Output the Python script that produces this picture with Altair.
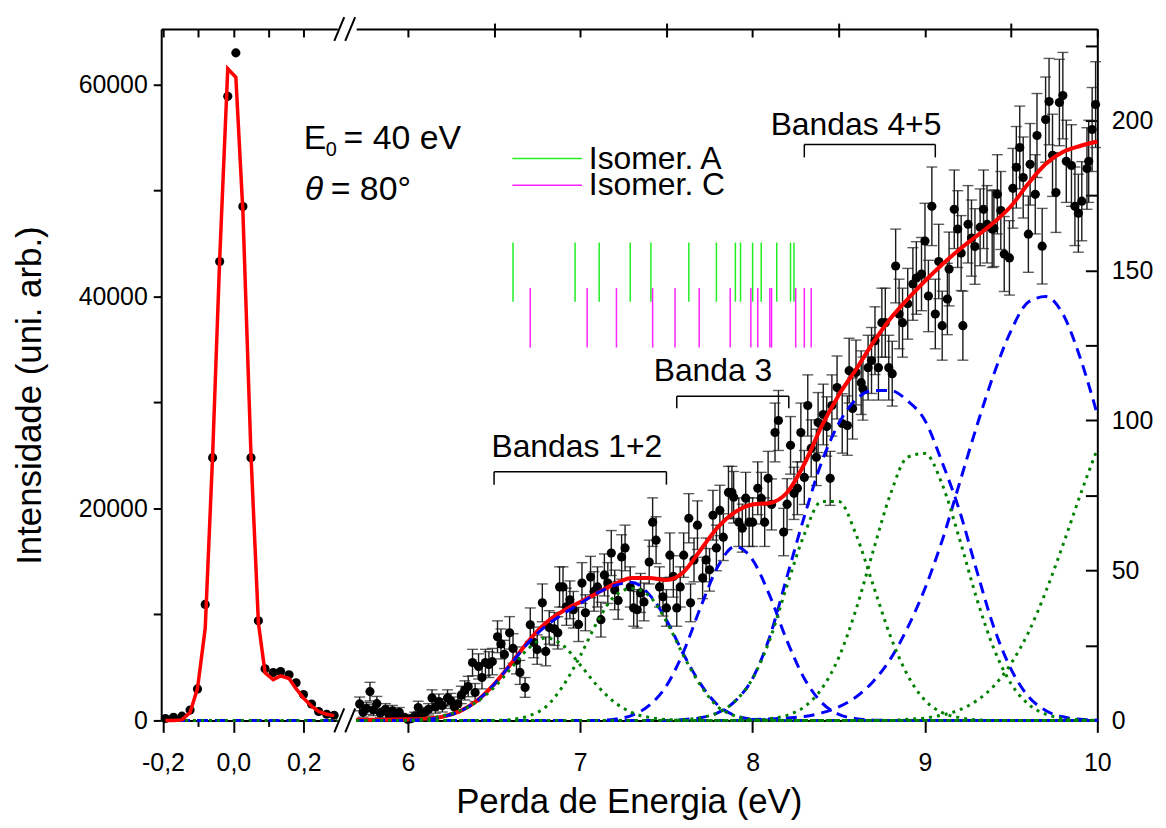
import altair as alt
import pandas as pd

FONT = "Liberation Sans"

# ---------------- elastic peak (left panel, left axis units) ----------------
el_x = [-0.193, -0.170, -0.146, -0.123, -0.102, -0.080, -0.059, -0.039, -0.016, 0.007,
        0.027, 0.050, 0.071, 0.090, 0.113, 0.134, 0.158, 0.178, 0.199, 0.222,
        0.242, 0.265, 0.286]
el_counts = [180, 300, 400, 975, 2970, 10950, 24800, 43300, 58900, 63000,
             48500, 24800, 9400, 4870, 4520, 4610, 4300, 3550, 2440, 1550,
             840, 580, 490]
el_fit = [0, 0, 50, 750, 3000, 8700, 25000, 43500, 61500, 60700,
          48000, 25000, 9200, 4500, 3850, 4200, 3950, 3000, 2100, 1350,
          850, 580, 450]
el_base_x = [-0.205, 0.295]
el_base_y = [0, 0]

# ---------------- energy-loss spectrum (right panel, right axis units) ----------------
sp_x = [5.72, 5.74, 5.76, 5.78, 5.80, 5.82, 5.84, 5.87, 5.89, 5.91,
        5.93, 5.95, 5.98, 6.00, 6.02, 6.04, 6.06, 6.08, 6.10, 6.12,
        6.14, 6.16, 6.18, 6.20, 6.23, 6.25, 6.27, 6.29, 6.31, 6.33,
        6.35, 6.375, 6.39, 6.41, 6.43, 6.45, 6.47, 6.49, 6.52, 6.54,
        6.56, 6.59, 6.61, 6.63, 6.65, 6.68, 6.71, 6.73, 6.75, 6.78,
        6.80, 6.82, 6.85, 6.87, 6.88, 6.90, 6.92, 6.94, 6.96, 6.99,
        7.01, 7.03, 7.06, 7.08, 7.10, 7.12, 7.14, 7.16, 7.18, 7.20,
        7.22, 7.24, 7.26, 7.29, 7.31, 7.33, 7.35, 7.37, 7.40, 7.42,
        7.44, 7.46, 7.48, 7.50, 7.52, 7.54, 7.56, 7.58, 7.60, 7.63,
        7.64, 7.66, 7.68, 7.71, 7.73, 7.75, 7.77, 7.79, 7.81, 7.83,
        7.86, 7.88, 7.89, 7.92, 7.94, 7.96, 7.98, 8.00, 8.03, 8.05,
        8.07, 8.09, 8.11, 8.13, 8.15, 8.18, 8.20, 8.22, 8.24, 8.26,
        8.28, 8.30, 8.32, 8.34, 8.37, 8.38, 8.41, 8.43, 8.45, 8.46,
        8.49, 8.52, 8.55, 8.56, 8.58, 8.60, 8.63, 8.64, 8.67, 8.69,
        8.71, 8.73, 8.75, 8.77, 8.79, 8.81, 8.83, 8.85, 8.87, 8.90,
        8.93, 8.95, 8.98, 9.00, 9.02, 9.04, 9.06, 9.08, 9.10, 9.13,
        9.14, 9.17, 9.19, 9.21, 9.22, 9.25, 9.27, 9.29, 9.32, 9.34,
        9.36, 9.39, 9.40, 9.42, 9.44, 9.46, 9.49, 9.51, 9.53, 9.55,
        9.57, 9.60, 9.61, 9.64, 9.65, 9.68, 9.70, 9.72, 9.74, 9.76,
        9.78, 9.80, 9.82, 9.85, 9.87, 9.89, 9.91, 9.94, 9.95, 9.97,
        9.99]
sp_y = [5.5, 2.7, 4.0, 9.6, 3.5, 5.6, 2.5, 3.7, 2.0, 3.2,
        1.5, 2.7, 1.0, 0.3, 0.6, 1.5, 4.3, 2.0, 2.7, 3.7,
        7.5, 4.5, 6.3, 5.0, 7.5, 6.5, 4.5, 5.5, 8.5, 10.0,
        11.3, 19.3, 9.3, 18.0, 14.3, 19.3, 18.6, 19.6, 27.9, 25.5,
        22.0, 29.2, 24.0, 20.0, 16.0, 11.0, 31.9, 26.0, 23.6, 39.2,
        23.0, 31.0, 30.5, 29.2, 44.5, 44.5, 37.9, 40.2, 36.9, 32.0,
        45.8, 35.9, 47.8, 43.0, 44.5, 33.6, 48.5, 45.8, 55.8, 43.5,
        40.0, 54.5, 57.5, 44.5, 37.5, 36.9, 42.5, 39.5, 52.8, 66.1,
        60.1, 44.5, 41.2, 37.5, 55.1, 48.0, 37.5, 44.5, 55.1, 67.4,
        39.2, 53.5, 65.1, 47.5, 53.5, 50.2, 68.4, 57.5, 70.0, 61.1,
        76.0, 76.0, 74.4, 66.1, 64.1, 74.1, 66.1, 66.1, 77.4, 74.1,
        66.1, 80.7, 72.0, 96.0, 100.0, 62.8, 72.1, 91.7, 75.7, 77.4,
        96.0, 81.0, 105.0, 90.7, 87.7, 99.3, 102.0, 98.0, 80.7, 105.0,
        111.0, 99.0, 98.3, 116.6, 104.0, 116.0, 112.6, 110.6, 117.6, 120.0,
        126.6, 117.6, 132.6, 132.6, 117.6, 115.6, 151.5, 135.5, 132.6, 138.9,
        145.5, 147.5, 148.8, 159.8, 141.5, 171.4, 135.5, 153.0, 131.6, 140.5,
        150.5, 170.4, 163.8, 155.8, 131.6, 165.4, 160.8, 158.0, 164.4, 170.4,
        165.4, 163.8, 164.1, 175.4, 170.0, 155.5, 154.2, 177.4, 184.4, 191.0,
        181.0, 162.1, 185.4, 175.4, 195.0, 158.1, 200.3, 206.3, 188.4, 176.0,
        206.0, 208.3, 186.4, 185.0, 171.4, 169.1, 173.1, 184.0, 186.4, 197.0,
        205.3]
sp_err = [2.3, 1.6, 2.0, 3.1, 1.9, 2.4, 1.6, 1.9, 1.4, 1.8,
          1.2, 1.6, 1.0, 0.5, 0.8, 1.2, 2.1, 1.4, 1.6, 1.9,
          2.7, 2.1, 2.5, 2.2, 2.7, 2.5, 2.1, 2.3, 2.9, 3.2,
          3.4, 4.4, 3.0, 4.2, 3.8, 4.4, 4.3, 4.4, 5.3, 5.0,
          4.7, 5.4, 4.9, 4.5, 4.0, 3.3, 5.6, 5.1, 4.9, 6.3,
          4.8, 5.6, 5.5, 5.4, 6.7, 6.7, 6.2, 6.3, 6.1, 5.7,
          6.8, 6.0, 6.9, 6.6, 6.7, 5.8, 7.0, 6.8, 7.5, 6.6,
          6.3, 7.4, 7.6, 6.7, 6.1, 6.1, 6.5, 6.3, 7.3, 8.1,
          7.8, 6.7, 6.4, 6.1, 7.4, 6.9, 6.1, 6.7, 7.4, 8.2,
          6.3, 7.3, 8.1, 6.9, 7.3, 7.1, 8.3, 7.6, 8.4, 7.8,
          8.7, 8.7, 8.6, 8.1, 8.0, 8.6, 8.1, 8.1, 8.8, 8.6,
          8.1, 9.0, 8.5, 9.8, 10.0, 7.9, 8.5, 9.6, 8.7, 8.8,
          9.8, 9.0, 10.2, 9.5, 9.4, 10.0, 10.1, 9.9, 9.0, 10.2,
          10.5, 9.9, 9.9, 10.8, 10.2, 10.8, 10.6, 10.5, 10.8, 11.0,
          11.3, 10.8, 11.5, 11.5, 10.8, 10.8, 12.3, 11.6, 11.5, 11.8,
          12.1, 12.1, 12.2, 12.6, 11.9, 13.1, 11.6, 12.4, 11.5, 11.9,
          12.3, 13.1, 12.8, 12.5, 11.5, 12.9, 12.7, 12.6, 12.8, 13.1,
          12.9, 12.8, 12.8, 13.2, 13.0, 12.5, 12.4, 13.3, 13.6, 13.8,
          13.5, 12.7, 13.6, 13.2, 14.0, 12.6, 14.2, 14.4, 13.7, 13.3,
          14.4, 14.4, 13.7, 13.6, 13.1, 13.0, 13.2, 13.6, 13.7, 14.0,
          14.3]
assert len(sp_x) == len(sp_y) == len(sp_err)

# fitted curves sampled on a common energy grid
grid_x = [5.7, 5.8, 5.9, 6.0, 6.1, 6.2, 6.3, 6.4, 6.5, 6.6,
          6.7, 6.8, 6.9, 7.0, 7.1, 7.2, 7.3, 7.4, 7.5, 7.6,
          7.7, 7.8, 7.9, 8.0, 8.1, 8.2, 8.3, 8.4, 8.5, 8.6,
          8.7, 8.8, 8.9, 9.0, 9.1, 9.2, 9.3, 9.4, 9.5, 9.6,
          9.7, 9.8, 9.9, 10.0]
fit_total = [0.2, 0.2, 0.3, 0.4, 0.6, 1.2, 3.0, 6.5, 12.0, 19.0,
             26.5, 32.5, 36.5, 39.5, 42.5, 45.5, 47.5, 47.5, 46.8, 49.5,
             57.0, 64.5, 69.5, 72.0, 72.5, 76.0, 85.5, 98.0, 108.5, 117.0,
             126.0, 134.0, 140.5, 146.5, 152.0, 157.0, 161.5, 166.0, 171.5, 179.0,
             185.5, 189.5, 191.5, 193.0]
env_b12 = [0, 0, 0, 0.1, 0.3, 1.2, 3.0, 6.5, 12.0, 19.0,
           26.0, 31.5, 35.5, 39.0, 42.5, 45.0, 46.0, 42.0, 33.5, 22.0,
           12.0, 5.0, 1.6, 0.4, 0.1, 0, 0, 0, 0, 0,
           0, 0, 0, 0, 0, 0, 0, 0, 0, 0,
           0, 0, 0, 0]
env_b3 = [0, 0, 0, 0, 0, 0, 0, 0, 0, 0,
          0, 0, 0, 0, 0, 0.4, 1.7, 5.0, 11.5, 23.0,
          38.0, 51.5, 58.0, 53.5, 41.5, 26.5, 14.0, 6.0, 2.0, 0.6,
          0.1, 0, 0, 0, 0, 0, 0, 0, 0, 0,
          0, 0, 0, 0]
env_b45 = [0, 0, 0, 0, 0, 0, 0, 0, 0, 0,
           0, 0, 0, 0, 0, 0, 0, 0, 0, 0.3,
           0.9, 2.6, 6.5, 14.0, 28.0, 48.0, 68.0, 86.0, 99.0, 107.0,
           110.0, 110.0, 106.5, 100.0, 86.0, 70.0, 50.0, 31.0, 17.0, 8.0,
           3.3, 1.2, 0.4, 0.1]
env_b6 = [0, 0, 0, 0, 0, 0, 0, 0, 0, 0,
          0, 0, 0, 0, 0, 0, 0, 0, 0, 0,
          0, 0, 0, 0.3, 0.5, 0.8, 1.3, 2.5, 4.5, 7.8,
          13.0, 20.5, 31.0, 44.0, 60.0, 79.0, 98.0, 115.5, 130.0, 139.5,
          141.3, 135.5, 121.0, 102.0]
comp_1 = [0, 0, 0, 0, 0.5, 1.5, 3.2, 6.2, 11.0, 17.5,
          24.0, 27.5, 25.0, 18.5, 11.5, 6.0, 2.6, 1.0, 0.3, 0,
          0, 0, 0, 0, 0, 0, 0, 0, 0, 0,
          0, 0, 0, 0, 0, 0, 0, 0, 0, 0,
          0, 0, 0, 0]
comp_2 = [0, 0, 0, 0, 0, 0, 0, 0, 0, 0.3,
          1.5, 4.5, 11.5, 21.5, 33.0, 41.5, 44.0, 41.5, 33.0, 21.5,
          11.5, 4.5, 1.5, 0.3, 0, 0, 0, 0, 0, 0,
          0, 0, 0, 0, 0, 0, 0, 0, 0, 0,
          0, 0, 0, 0]
comp_4 = [0, 0, 0, 0, 0, 0, 0, 0, 0, 0,
          0, 0, 0, 0, 0, 0, 0, 0, 0, 0.3,
          0.9, 2.6, 6.5, 14.0, 27.0, 45.0, 62.0, 73.0, 73.0, 62.0,
          45.0, 28.0, 15.0, 6.7, 2.6, 0.9, 0.2, 0, 0, 0,
          0, 0, 0, 0]
comp_5 = [0, 0, 0, 0, 0, 0, 0, 0, 0, 0,
          0, 0, 0, 0, 0, 0, 0, 0, 0, 0,
          0, 0, 0, 0, 0.6, 1.7, 4.5, 10.5, 21.0, 37.0,
          56.6, 75.5, 87.8, 89.0, 78.7, 60.6, 40.7, 23.9, 12.2, 5.4,
          2.1, 0.7, 0.2, 0]
comp_6 = [0, 0, 0, 0, 0, 0, 0, 0, 0, 0,
          0, 0, 0, 0, 0, 0, 0, 0, 0, 0,
          0, 0, 0, 0, 0, 0, 0, 0, 0, 0,
          0, 0, 0.4, 0.8, 1.8, 3.5, 6.6, 11.5, 19.0, 29.3,
          42.8, 58.4, 75.0, 90.5]

# calculated transitions of the two isomers (eV)
isomer_a = [6.61, 6.97, 7.11, 7.29, 7.41, 7.63, 7.79, 7.90, 7.93, 8.00, 8.05, 8.14, 8.22, 8.24]
isomer_c = [6.71, 7.04, 7.21, 7.42, 7.55, 7.69, 7.87, 7.99, 8.03, 8.10, 8.11, 8.25, 8.30, 8.34]

# band brackets
band_names = ["Bandas 1+2", "Banda 3", "Bandas 4+5"]
band_lo = [6.50, 7.56, 8.30]
band_hi = [7.50, 8.21, 9.06]

# tick values
left_x_major = [-0.2, 0.0, 0.2]
left_x_minor = [-0.1, 0.1]
left_x_top = [-0.2, -0.1, 0.0, 0.1, 0.2]
right_x_major = [6, 7, 8, 9, 10]
right_x_minor = [6.5, 7.5, 8.5, 9.5]
right_x_top = [6, 6.5, 7, 7.5, 8, 8.5, 9, 9.5, 10]
left_y_ticks = [0, 10000, 20000, 30000, 40000, 50000, 60000]
right_y_major = [0, 50, 100, 150, 200]
right_y_minor = [0, 25, 50, 75, 100, 125, 150, 175, 200, 225]

# ---------------- layout constants ----------------
W_L, W_R, H = 177, 745, 695
LBL, TTL, ANN, ANN_E = 25, 35, 32, 34
RED, BLUE, GREEN = "#ff0000", "#0000ff", "#008000"
ISO_A, ISO_C = "#22ee22", "#ff22ff"
DOT = 85

xl = alt.Scale(domain=[-0.205, 0.295], nice=False, zero=False)
yl = alt.Scale(domain=[0, 65250], nice=False, zero=False)
xr = alt.Scale(domain=[5.70, 10.0], nice=False, zero=False)
yr = alt.Scale(domain=[0, 230.5], nice=False, zero=False)

one = pd.DataFrame({"n": [0]})

# ---------------- left panel ----------------
el_df = pd.DataFrame({"x": el_x, "y": el_counts, "fit": el_fit})
base_df = pd.DataFrame({"x": el_base_x, "y": el_base_y})

ax_l_bottom = alt.Axis(values=left_x_major,
                       labelExpr="replace(replace(format(datum.value, '.1f'), '.', ','), '\u2212', '-')",
                       tickSize=12, labelPadding=18, title=None, domain=True)
ax_l_minor = alt.Axis(values=left_x_minor, tickSize=6, labels=False, domain=False, title=None)
ax_l_toptick = alt.Axis(orient="top", values=left_x_top, offset=-8, tickSize=8,
                        labels=False, domain=False, title=None)
ax_l_topline = alt.Axis(orient="top", ticks=False, labels=False, domain=True, title=None)
ax_l_y = alt.Axis(values=left_y_ticks,
                  labelExpr="datum.value % 20000 == 0 ? format(datum.value, 'd') : ''",
                  tickSize=8, labelPadding=6, title="Intensidade (uni. arb.)",
                  titlePadding=31, titleY=368)

l_fit = alt.Chart(el_df).mark_line(color=RED, strokeWidth=3.5).encode(
    x=alt.X("x:Q", scale=xl, axis=ax_l_minor),
    y=alt.Y("fit:Q", scale=yl, axis=None))
l_pts = alt.Chart(el_df).mark_circle(color="black", size=DOT, opacity=1).encode(
    x=alt.X("x:Q", scale=xl, axis=ax_l_bottom),
    y=alt.Y("y:Q", scale=yl, axis=ax_l_y))
l_base_b = alt.Chart(base_df).mark_line(color=BLUE, strokeWidth=3, strokeDash=[11, 7]).encode(
    x=alt.X("x:Q", scale=xl, axis=ax_l_toptick),
    y=alt.Y("y:Q", scale=yl, axis=None))
l_base_g = alt.Chart(base_df).mark_line(color=GREEN, strokeWidth=3, strokeDash=[3, 5]).encode(
    x=alt.X("x:Q", scale=xl, axis=ax_l_topline),
    y=alt.Y("y:Q", scale=yl, axis=None))

E_X, E_Y, TH_Y = 0.2, 54830, 50040
def ltext(text, x, y, size, dx=0, dy=0, style="normal"):
    return alt.Chart(one).mark_text(text=text, align="left", baseline="middle", font=FONT,
                                    fontSize=size, dx=dx, dy=dy, fontStyle=style,
                                    color="black").encode(
        x=alt.X("xx:Q", scale=xl, axis=None), y=alt.Y("yy:Q", scale=yl, axis=None)
    ).transform_calculate(xx=str(x), yy=str(y))

left = alt.layer(
    l_base_b, l_base_g, l_pts, l_fit,
    ltext("E", E_X, E_Y, ANN_E),
    ltext("0", E_X, E_Y, 20, dx=22, dy=11),
    ltext("= 40 eV", E_X, E_Y, ANN_E, dx=40),
    ltext("\u03b8", E_X, TH_Y, ANN_E, dx=1, style="italic"),
    ltext("= 80\u00b0", E_X, TH_Y, ANN_E, dx=27),
).resolve_axis(x="independent", y="independent").properties(width=W_L, height=H)

# ---------------- right panel ----------------
sp_df = pd.DataFrame({"x": sp_x, "y": sp_y, "err": sp_err})
sp_df["lo"] = sp_df["y"] - sp_df["err"]
sp_df["hi"] = sp_df["y"] + sp_df["err"]

def long_df(curves):
    rows = []
    for name, vals in curves.items():
        for gx, v in zip(grid_x, vals):
            rows.append({"x": gx, "y": v, "c": name})
    return pd.DataFrame(rows)

fit_df = pd.DataFrame({"x": grid_x, "y": fit_total})
env_df = long_df({"b12": env_b12, "b3": env_b3, "b45": env_b45, "b6": env_b6})
comp_df = long_df({"c1": comp_1, "c2": comp_2, "c4": comp_4, "c5": comp_5, "c6": comp_6})

ax_r_bottom = alt.Axis(values=right_x_major, format="d", tickSize=12, labelPadding=18,
                       title="Perda de Energia (eV)", titleX=274, titlePadding=10, domain=True)
ax_r_minor = alt.Axis(values=right_x_minor, tickSize=6, labels=False, domain=False, title=None)
ax_r_toptick = alt.Axis(orient="top", values=right_x_top, offset=-8, tickSize=8,
                        labels=False, domain=False, title=None)
ax_r_topline = alt.Axis(orient="top", ticks=False, labels=False, domain=True, title=None)
ax_r_y = alt.Axis(orient="right", values=right_y_major, ticks=False, tickSize=0,
                  labelPadding=14, title=None, domain=True)
ax_r_yticks = alt.Axis(orient="right", values=right_y_minor, offset=-12, tickSize=12,
                       labels=False, domain=False, title=None)

EB = "#1a1a1a"
r_err = alt.Chart(sp_df).mark_rule(color=EB, strokeWidth=1.4).encode(
    x=alt.X("x:Q", scale=xr, axis=ax_r_bottom),
    y=alt.Y("lo:Q", scale=yr, axis=ax_r_y), y2="hi:Q")
r_cap_hi = alt.Chart(sp_df).mark_tick(orient="horizontal", size=11, thickness=1.4, color=EB).encode(
    x=alt.X("x:Q", scale=xr, axis=ax_r_minor),
    y=alt.Y("hi:Q", scale=yr, axis=ax_r_yticks))
r_cap_lo = alt.Chart(sp_df).mark_tick(orient="horizontal", size=11, thickness=1.4, color=EB).encode(
    x=alt.X("x:Q", scale=xr, axis=ax_r_toptick),
    y=alt.Y("lo:Q", scale=yr, axis=None))
r_pts = alt.Chart(sp_df).mark_circle(color="black", size=DOT, opacity=1).encode(
    x=alt.X("x:Q", scale=xr, axis=ax_r_topline),
    y=alt.Y("y:Q", scale=yr, axis=None))
r_fit = alt.Chart(fit_df).mark_line(color=RED, strokeWidth=4, interpolate="monotone").encode(
    x=alt.X("x:Q", scale=xr, axis=None), y=alt.Y("y:Q", scale=yr, axis=None))
r_env = alt.Chart(env_df).mark_line(color=BLUE, strokeWidth=3, strokeDash=[11, 7],
                                    interpolate="monotone").encode(
    x=alt.X("x:Q", scale=xr, axis=None), y=alt.Y("y:Q", scale=yr, axis=None), detail="c:N")
r_comp = alt.Chart(comp_df).mark_line(color=GREEN, strokeWidth=3, strokeDash=[3, 5],
                                      interpolate="monotone").encode(
    x=alt.X("x:Q", scale=xr, axis=None), y=alt.Y("y:Q", scale=yr, axis=None), detail="c:N")

iso_a_df = pd.DataFrame({"x": isomer_a})
iso_c_df = pd.DataFrame({"x": isomer_c})
r_iso_a = alt.Chart(iso_a_df).mark_rule(color=ISO_A, strokeWidth=1.5).encode(
    x=alt.X("x:Q", scale=xr, axis=None),
    y=alt.Y("y1:Q", scale=yr, axis=None), y2="y2:Q").transform_calculate(y1="139.6", y2="159.3")
r_iso_c = alt.Chart(iso_c_df).mark_rule(color=ISO_C, strokeWidth=1.5).encode(
    x=alt.X("x:Q", scale=xr, axis=None),
    y=alt.Y("y1:Q", scale=yr, axis=None), y2="y2:Q").transform_calculate(y1="124.3", y2="144.2")

def rtext(text, x, y, size, align="left"):
    return alt.Chart(one).mark_text(text=text, align=align, baseline="middle", font=FONT,
                                    fontSize=size, color="black").encode(
        x=alt.X("xx:Q", scale=xr, axis=None), y=alt.Y("yy:Q", scale=yr, axis=None)
    ).transform_calculate(xx=str(x), yy=str(y))

def hseg(x1, x2, y, color, width):
    return alt.Chart(one).mark_rule(color=color, strokeWidth=width).encode(
        x=alt.X("a:Q", scale=xr, axis=None), x2="b:Q", y=alt.Y("c:Q", scale=yr, axis=None)
    ).transform_calculate(a=str(x1), b=str(x2), c=str(y))

br_df = pd.DataFrame({"name": band_names, "lo": band_lo, "hi": band_hi,
                      "top": [82.9, 108.1, 192.0], "bot": [78.6, 104.1, 187.7],
                      "tx": [6.98, 7.77, 8.60], "ty": [91.2, 116.4, 198.6]})
br_h = alt.Chart(br_df).mark_rule(color="black", strokeWidth=1.5).encode(
    x=alt.X("lo:Q", scale=xr, axis=None), x2="hi:Q", y=alt.Y("top:Q", scale=yr, axis=None))
br_l = alt.Chart(br_df).mark_rule(color="black", strokeWidth=1.5).encode(
    x=alt.X("lo:Q", scale=xr, axis=None), y=alt.Y("top:Q", scale=yr, axis=None), y2="bot:Q")
br_r = alt.Chart(br_df).mark_rule(color="black", strokeWidth=1.5).encode(
    x=alt.X("hi:Q", scale=xr, axis=None), y=alt.Y("top:Q", scale=yr, axis=None), y2="bot:Q")
br_t = alt.Chart(br_df).mark_text(align="center", baseline="middle", font=FONT, fontSize=ANN,
                                  color="black").encode(
    x=alt.X("tx:Q", scale=xr, axis=None), y=alt.Y("ty:Q", scale=yr, axis=None), text="name:N")

def slash(x1, x2, y1, y2):
    return alt.Chart(one).mark_rule(color="black", strokeWidth=2).encode(
        x=alt.value(x1), x2=alt.value(x2), y=alt.value(y1), y2=alt.value(y2))

right = alt.layer(
    r_err, r_cap_hi, r_cap_lo, r_pts, r_fit, r_env, r_comp,
    r_iso_a, r_iso_c,
    hseg(6.606, 7.01, 187.3, ISO_A, 1.5), hseg(6.606, 7.01, 178.4, ISO_C, 1.5),
    rtext("Isomer. A", 7.05, 187.3, ANN), rtext("Isomer. C", 7.05, 178.4, ANN),
    br_h, br_l, br_r, br_t,
    slash(-22, -12, H + 12, H - 12), slash(-11, -1, H + 12, H - 12),
    slash(-22, -12, 12, -12), slash(-11, -1, 12, -12),
).resolve_axis(x="independent", y="independent").properties(width=W_R, height=H)

chart = alt.hconcat(left, right, spacing=19, bounds="flush").properties(
    padding={"left": 4, "top": 6, "right": 5, "bottom": 5}, background="white"
).configure_view(strokeWidth=0).configure_axis(
    labelFont=FONT, titleFont=FONT, labelFontSize=LBL, titleFontSize=TTL,
    labelColor="black", titleColor="black", domainColor="black", tickColor="black",
    domainWidth=2, tickWidth=2, grid=False, labelFlush=False, labelOverlap=False,
    titleFontWeight="normal")

chart.save("out.html", embed_options={"renderer": "svg", "actions": False})
